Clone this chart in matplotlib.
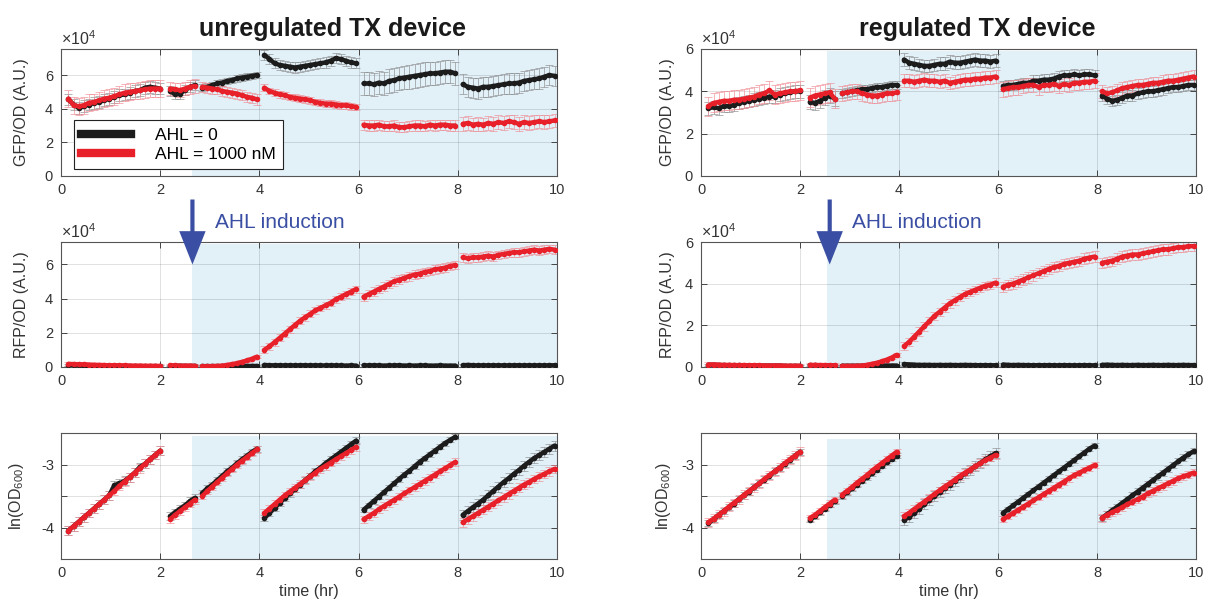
import numpy as np
import matplotlib
matplotlib.use("Agg")
import matplotlib.pyplot as plt
from matplotlib.ticker import ScalarFormatter, FixedFormatter, FixedLocator
from matplotlib.lines import Line2D

plt.rcParams['font.family'] = ['Liberation Sans', 'DejaVu Sans']
plt.rcParams['mathtext.default'] = 'regular'

# plate-reader runs: (start hr, end hr, number of reads)
windows = [(0.15, 2.0, 19), (2.2, 2.7, 6), (2.85, 3.95, 12),
           (4.1, 5.95, 19), (6.1, 7.95, 19), (8.1, 9.95, 19)]

induction_unreg = 2.65
induction_reg = 2.55

# ---------------- GFP/OD (x 1e4 A.U.) ----------------
gfp_unreg_0 = [
    [4.55, 4.25, 4.05, 4.15, 4.25, 4.35, 4.4, 4.5, 4.6, 4.7, 4.8, 4.85, 4.95, 5.05, 5.1, 5.25, 5.3, 5.25, 5.2],
    [5.05, 4.85, 4.9, 5.1, 5.3, 5.4],
    [5.25, 5.3, 5.4, 5.5, 5.55, 5.65, 5.7, 5.8, 5.85, 5.9, 5.95, 6.0],
    [7.2, 6.95, 6.7, 6.6, 6.55, 6.5, 6.45, 6.5, 6.55, 6.6, 6.65, 6.7, 6.75, 6.85, 7.0, 6.95, 6.85, 6.75, 6.7],
    [5.5, 5.5, 5.45, 5.55, 5.5, 5.65, 5.7, 5.8, 5.85, 5.9, 5.95, 6.0, 6.05, 6.1, 6.1, 6.15, 6.2, 6.2, 6.1],
    [5.45, 5.3, 5.25, 5.2, 5.3, 5.3, 5.35, 5.4, 5.45, 5.5, 5.5, 5.55, 5.65, 5.7, 5.75, 5.8, 5.9, 6.0, 5.95],
]
gfp_unreg_1000 = [
    [4.6, 4.2, 4.15, 4.2, 4.35, 4.4, 4.5, 4.6, 4.65, 4.75, 4.85, 4.95, 5.0, 5.05, 5.1, 5.15, 5.2, 5.2, 5.2],
    [5.2, 5.15, 5.1, 5.2, 5.3, 5.35],
    [5.3, 5.25, 5.2, 5.15, 5.05, 5.0, 4.95, 4.9, 4.8, 4.7, 4.65, 4.55],
    [5.25, 5.05, 4.95, 4.85, 4.8, 4.7, 4.65, 4.6, 4.55, 4.5, 4.4, 4.35, 4.3, 4.3, 4.25, 4.2, 4.2, 4.15, 4.1],
    [3.05, 3.0, 3.0, 3.05, 2.95, 2.95, 3.0, 2.9, 2.9, 2.95, 3.0, 3.0, 2.95, 3.05, 3.0, 3.05, 3.05, 3.0, 3.0],
    [3.1, 3.15, 3.05, 3.1, 3.05, 3.15, 3.1, 3.2, 3.15, 3.25, 3.2, 3.1, 3.2, 3.15, 3.2, 3.25, 3.2, 3.25, 3.3],
]
gfp_reg_0 = [
    [3.2, 3.25, 3.2, 3.3, 3.3, 3.35, 3.45, 3.5, 3.55, 3.6, 3.65, 3.7, 3.75, 3.75, 3.85, 3.9, 3.95, 4.0, 4.0],
    [3.5, 3.45, 3.55, 3.7, 3.8, 3.65],
    [3.9, 3.95, 4.0, 4.05, 4.1, 4.1, 4.15, 4.2, 4.2, 4.25, 4.3, 4.3],
    [5.5, 5.35, 5.3, 5.25, 5.2, 5.2, 5.25, 5.3, 5.3, 5.4, 5.35, 5.35, 5.4, 5.45, 5.5, 5.45, 5.45, 5.4, 5.45],
    [4.25, 4.3, 4.3, 4.35, 4.4, 4.4, 4.5, 4.5, 4.55, 4.55, 4.6, 4.7, 4.75, 4.75, 4.8, 4.75, 4.8, 4.8, 4.75],
    [3.8, 3.65, 3.55, 3.6, 3.7, 3.8, 3.8, 3.9, 3.95, 4.0, 4.0, 4.05, 4.1, 4.15, 4.2, 4.2, 4.25, 4.3, 4.3],
]
gfp_reg_1000 = [
    [3.3, 3.45, 3.5, 3.55, 3.55, 3.6, 3.6, 3.65, 3.7, 3.75, 3.85, 3.9, 4.05, 3.85, 3.9, 3.95, 4.0, 4.0, 4.05],
    [3.7, 3.8, 3.85, 3.9, 3.95, 3.65],
    [3.9, 3.95, 4.0, 4.0, 3.9, 3.85, 3.8, 3.8, 3.85, 3.9, 3.9, 3.95],
    [4.5, 4.5, 4.45, 4.5, 4.55, 4.5, 4.5, 4.45, 4.5, 4.4, 4.45, 4.5, 4.55, 4.55, 4.6, 4.6, 4.65, 4.65, 4.7],
    [4.1, 4.15, 4.2, 4.2, 4.25, 4.3, 4.3, 4.2, 4.3, 4.3, 4.35, 4.25, 4.35, 4.3, 4.4, 4.4, 4.45, 4.45, 4.5],
    [4.0, 3.9, 3.95, 4.05, 4.15, 4.2, 4.25, 4.3, 4.3, 4.35, 4.4, 4.4, 4.45, 4.5, 4.5, 4.55, 4.6, 4.65, 4.7],
]
gfp_unreg_0_err = [0.35, 0.3, 0.2, 0.3, 0.7, 0.6]
gfp_unreg_1000_err = [0.5, 0.4, 0.3, 0.2, 0.3, 0.4]
gfp_reg_0_err = [0.3, 0.35, 0.2, 0.3, 0.25, 0.25]
gfp_reg_1000_err = [0.45, 0.45, 0.35, 0.3, 0.35, 0.3]

# ---------------- RFP/OD (x 1e4 A.U.) ----------------
rfp_unreg_0 = [
    [0.12, 0.1, 0.1, 0.08, 0.08, 0.07, 0.07, 0.06, 0.06, 0.06, 0.05, 0.05, 0.05, 0.05, 0.04, 0.04, 0.04, 0.04, 0.04],
    [0.08, 0.07, 0.07, 0.06, 0.06, 0.06],
    [0.05, 0.05, 0.05, 0.05, 0.05, 0.05, 0.06, 0.06, 0.06, 0.06, 0.06, 0.06],
    [0.12, 0.1, 0.1, 0.1, 0.09, 0.1, 0.09, 0.1, 0.1, 0.09, 0.1, 0.09, 0.09, 0.1, 0.09, 0.09, 0.08, 0.09, 0.08],
    [0.1, 0.09, 0.1, 0.09, 0.08, 0.09, 0.09, 0.1, 0.08, 0.09, 0.08, 0.09, 0.09, 0.08, 0.08, 0.09, 0.08, 0.08, 0.08],
    [0.1, 0.12, 0.1, 0.09, 0.1, 0.09, 0.1, 0.09, 0.1, 0.09, 0.1, 0.1, 0.09, 0.1, 0.09, 0.1, 0.09, 0.1, 0.1],
]
rfp_unreg_1000 = [
    [0.18, 0.17, 0.16, 0.15, 0.14, 0.13, 0.12, 0.11, 0.1, 0.1, 0.09, 0.09, 0.08, 0.08, 0.08, 0.07, 0.07, 0.07, 0.06],
    [0.1, 0.09, 0.08, 0.08, 0.08, 0.07],
    [0.04, 0.04, 0.05, 0.06, 0.08, 0.12, 0.17, 0.22, 0.3, 0.38, 0.48, 0.6],
    [1.0, 1.2, 1.45, 1.7, 1.95, 2.2, 2.45, 2.7, 2.9, 3.1, 3.3, 3.45, 3.6, 3.75, 3.95, 4.1, 4.25, 4.4, 4.55],
    [4.1, 4.25, 4.4, 4.55, 4.7, 4.85, 5.0, 5.1, 5.2, 5.3, 5.4, 5.45, 5.55, 5.6, 5.7, 5.75, 5.8, 5.9, 5.95],
    [6.4, 6.35, 6.4, 6.4, 6.45, 6.5, 6.45, 6.55, 6.6, 6.65, 6.7, 6.7, 6.75, 6.8, 6.85, 6.8, 6.85, 6.9, 6.85],
]
rfp_reg_0 = [
    [0.1, 0.1, 0.09, 0.09, 0.08, 0.08, 0.08, 0.07, 0.07, 0.07, 0.06, 0.06, 0.06, 0.06, 0.06, 0.05, 0.05, 0.05, 0.05],
    [0.08, 0.08, 0.07, 0.07, 0.07, 0.07],
    [0.06, 0.06, 0.06, 0.06, 0.06, 0.06, 0.07, 0.07, 0.07, 0.07, 0.07, 0.07],
    [0.14, 0.12, 0.11, 0.1, 0.1, 0.1, 0.09, 0.1, 0.09, 0.1, 0.09, 0.09, 0.1, 0.09, 0.09, 0.08, 0.09, 0.08, 0.08],
    [0.12, 0.1, 0.09, 0.1, 0.09, 0.09, 0.08, 0.09, 0.08, 0.09, 0.08, 0.08, 0.09, 0.08, 0.08, 0.08, 0.09, 0.08, 0.08],
    [0.1, 0.11, 0.1, 0.09, 0.1, 0.09, 0.09, 0.1, 0.09, 0.09, 0.1, 0.09, 0.09, 0.1, 0.09, 0.09, 0.1, 0.09, 0.09],
]
rfp_reg_1000 = [
    [0.12, 0.12, 0.11, 0.1, 0.1, 0.09, 0.09, 0.09, 0.08, 0.08, 0.08, 0.07, 0.07, 0.07, 0.07, 0.06, 0.06, 0.06, 0.06],
    [0.1, 0.1, 0.09, 0.09, 0.08, 0.08],
    [0.05, 0.05, 0.05, 0.06, 0.07, 0.1, 0.15, 0.2, 0.27, 0.35, 0.45, 0.58],
    [1.0, 1.2, 1.45, 1.7, 1.95, 2.2, 2.45, 2.65, 2.85, 3.05, 3.2, 3.35, 3.5, 3.6, 3.7, 3.8, 3.9, 3.95, 4.05],
    [3.85, 3.95, 4.0, 4.1, 4.2, 4.3, 4.4, 4.5, 4.6, 4.7, 4.8, 4.85, 4.95, 5.0, 5.05, 5.1, 5.2, 5.25, 5.3],
    [5.0, 5.05, 5.1, 5.2, 5.3, 5.35, 5.4, 5.4, 5.45, 5.5, 5.55, 5.6, 5.65, 5.65, 5.7, 5.75, 5.75, 5.8, 5.8],
]
rfp_unreg_0_err = [0.05, 0.05, 0.05, 0.08, 0.08, 0.08]
rfp_unreg_1000_err = [0.12, 0.08, 0.08, 0.2, 0.25, 0.25]
rfp_reg_0_err = [0.05, 0.05, 0.05, 0.1, 0.08, 0.08]
rfp_reg_1000_err = [0.1, 0.1, 0.08, 0.2, 0.25, 0.25]

# ---------------- ln(OD600) ----------------
od_unreg_0 = [
    [-4.05, -3.98, -3.91, -3.84, -3.77, -3.70, -3.63, -3.56, -3.49, -3.33, -3.30, -3.26, -3.20, -3.13, -3.04, -2.99, -2.92, -2.85, -2.78],
    [-3.82, -3.76, -3.70, -3.65, -3.58, -3.53],
    [-3.45, -3.38, -3.32, -3.25, -3.18, -3.11, -3.05, -2.98, -2.92, -2.86, -2.80, -2.75],
    [-3.85, -3.77, -3.69, -3.61, -3.53, -3.46, -3.39, -3.32, -3.25, -3.18, -3.11, -3.05, -2.98, -2.92, -2.86, -2.80, -2.74, -2.68, -2.62],
    [-3.72, -3.65, -3.58, -3.51, -3.44, -3.37, -3.30, -3.23, -3.16, -3.10, -3.03, -2.96, -2.90, -2.84, -2.78, -2.72, -2.66, -2.61, -2.56],
    [-3.80, -3.74, -3.68, -3.62, -3.56, -3.49, -3.42, -3.35, -3.28, -3.22, -3.15, -3.09, -3.02, -2.96, -2.90, -2.85, -2.80, -2.75, -2.70],
]
od_unreg_1000 = [
    [-4.05, -3.98, -3.91, -3.84, -3.77, -3.70, -3.63, -3.56, -3.49, -3.42, -3.34, -3.27, -3.20, -3.13, -3.06, -2.99, -2.92, -2.85, -2.78],
    [-3.87, -3.80, -3.74, -3.68, -3.62, -3.56],
    [-3.50, -3.42, -3.35, -3.28, -3.21, -3.14, -3.07, -3.00, -2.94, -2.88, -2.82, -2.76],
    [-3.77, -3.70, -3.63, -3.56, -3.49, -3.43, -3.37, -3.31, -3.25, -3.19, -3.13, -3.07, -3.02, -2.97, -2.92, -2.87, -2.82, -2.77, -2.72],
    [-3.87, -3.82, -3.77, -3.71, -3.66, -3.61, -3.56, -3.51, -3.46, -3.41, -3.36, -3.31, -3.26, -3.21, -3.16, -3.11, -3.06, -3.01, -2.96],
    [-3.92, -3.87, -3.82, -3.77, -3.72, -3.67, -3.62, -3.57, -3.52, -3.47, -3.42, -3.37, -3.32, -3.28, -3.23, -3.19, -3.15, -3.11, -3.07],
]
od_reg_0 = [
    [-3.93, -3.87, -3.80, -3.74, -3.68, -3.62, -3.55, -3.49, -3.43, -3.36, -3.30, -3.24, -3.18, -3.11, -3.05, -2.99, -2.93, -2.86, -2.80],
    [-3.88, -3.82, -3.76, -3.70, -3.64, -3.58],
    [-3.50, -3.44, -3.38, -3.32, -3.26, -3.20, -3.14, -3.08, -3.02, -2.96, -2.91, -2.86],
    [-3.88, -3.83, -3.77, -3.70, -3.63, -3.56, -3.50, -3.44, -3.38, -3.32, -3.26, -3.20, -3.14, -3.09, -3.03, -2.98, -2.92, -2.87, -2.82],
    [-3.77, -3.71, -3.65, -3.59, -3.53, -3.47, -3.41, -3.35, -3.29, -3.23, -3.17, -3.11, -3.05, -2.99, -2.93, -2.87, -2.81, -2.75, -2.70],
    [-3.85, -3.79, -3.73, -3.67, -3.61, -3.55, -3.49, -3.43, -3.37, -3.31, -3.25, -3.19, -3.13, -3.07, -3.01, -2.95, -2.89, -2.84, -2.79],
]
od_reg_1000 = [
    [-3.92, -3.86, -3.80, -3.74, -3.67, -3.61, -3.55, -3.48, -3.42, -3.36, -3.30, -3.23, -3.17, -3.11, -3.05, -2.98, -2.92, -2.86, -2.80],
    [-3.85, -3.80, -3.74, -3.68, -3.62, -3.56],
    [-3.48, -3.42, -3.36, -3.29, -3.23, -3.17, -3.10, -3.04, -2.98, -2.92, -2.86, -2.80],
    [-3.82, -3.77, -3.71, -3.65, -3.59, -3.53, -3.47, -3.41, -3.35, -3.30, -3.24, -3.18, -3.13, -3.08, -3.03, -2.98, -2.93, -2.89, -2.85],
    [-3.87, -3.82, -3.77, -3.72, -3.67, -3.62, -3.57, -3.52, -3.47, -3.42, -3.37, -3.32, -3.27, -3.22, -3.17, -3.13, -3.09, -3.05, -3.01],
    [-3.85, -3.80, -3.76, -3.72, -3.68, -3.63, -3.59, -3.55, -3.51, -3.46, -3.42, -3.38, -3.34, -3.30, -3.26, -3.22, -3.19, -3.16, -3.13],
]
od_unreg_0_err = [0.07, 0.06, 0.05, 0.05, 0.04, 0.08]
od_unreg_1000_err = [0.07, 0.06, 0.05, 0.06, 0.06, 0.07]
od_reg_0_err = [0.05, 0.04, 0.04, 0.08, 0.04, 0.05]
od_reg_1000_err = [0.07, 0.05, 0.05, 0.06, 0.05, 0.06]

BLACK = '#1c1c1c'
RED = '#e8202a'
BLACK_ERR = '#8a8a8a'
RED_ERR = '#f08a92'
SHADE = '#e2f0f8'
BLUE = '#3a4fa3'
INK = '#333333'

fig = plt.figure(figsize=(12.08, 6.04), dpi=100)
W, H = 1208.0, 604.0
cols = [(61, 496), (701, 495)]
rows = [(49, 176), (242, 367), (433, 559)]
axes = [[fig.add_axes([c0 / W, 1 - r1 / H, cw / W, (r1 - r0) / H]) for (c0, cw) in cols]
        for (r0, r1) in rows]


def draw_pair(ax, ctrl, ctrl_err, ind, ind_err, scale=1.0):
    for segs, errs, ecol in ((ctrl, ctrl_err, BLACK_ERR), (ind, ind_err, RED_ERR)):
        for (t0, t1, n), vals, e in zip(windows, segs, errs):
            t = np.linspace(t0, t1, n)
            ax.errorbar(t, np.asarray(vals) * scale, yerr=e * scale, fmt='none',
                        ecolor=ecol, elinewidth=0.6, capsize=3, capthick=0.6,
                        alpha=0.75, zorder=2)
    for segs, col, z in ((ctrl, BLACK, 3), (ind, RED, 4)):
        for (t0, t1, n), vals in zip(windows, segs):
            t = np.linspace(t0, t1, n)
            ax.plot(t, np.asarray(vals) * scale, '-', color=col, lw=3.2,
                    marker='o', ms=3, solid_capstyle='round', zorder=z)


def style(ax, ylim, ylabel, label_x, shade_from, shade_top, sci=True):
    ax.set_xlim(0, 10)
    ax.set_ylim(*ylim)
    ax.set_xticks([0, 2, 4, 6, 8, 10])
    ax.axvspan(shade_from, 10, ymin=0, ymax=shade_top, color=SHADE, lw=0, zorder=0.2)
    ax.grid(True, color='black', alpha=0.12, lw=0.7)
    ax.set_axisbelow(True)
    ax.tick_params(direction='in', top=True, right=True, length=4, width=0.7,
                   color='#444444', labelcolor=INK, labelsize=10.5, pad=5)
    for s in ax.spines.values():
        s.set_color('#555555')
        s.set_linewidth(0.8)
    ax.set_ylabel(ylabel, fontsize=11.5, color=INK)
    ax.yaxis.set_label_coords(label_x, 0.5)
    if sci:
        fmt = ScalarFormatter(useMathText=True)
        fmt.set_powerlimits((0, 0))
        ax.yaxis.set_major_formatter(fmt)
        ax.yaxis.get_offset_text().set_fontsize(11.5)
        ax.yaxis.get_offset_text().set_color(INK)


S = 1e4
LX_LEFT, LX_RIGHT = -0.065, -0.052

# GFP row
draw_pair(axes[0][0], gfp_unreg_0, gfp_unreg_0_err, gfp_unreg_1000, gfp_unreg_1000_err, S)
draw_pair(axes[0][1], gfp_reg_0, gfp_reg_0_err, gfp_reg_1000, gfp_reg_1000_err, S)
style(axes[0][0], (0, 7.55e4), 'GFP/OD (A.U.)', LX_LEFT, induction_unreg, 1.0)
style(axes[0][1], (0, 6e4), 'GFP/OD (A.U.)', LX_RIGHT, induction_reg, 0.985)
axes[0][0].set_yticks([0, 2e4, 4e4, 6e4])
axes[0][1].set_yticks([0, 2e4, 4e4, 6e4])

# RFP row
draw_pair(axes[1][0], rfp_unreg_0, rfp_unreg_0_err, rfp_unreg_1000, rfp_unreg_1000_err, S)
draw_pair(axes[1][1], rfp_reg_0, rfp_reg_0_err, rfp_reg_1000, rfp_reg_1000_err, S)
style(axes[1][0], (0, 7.3e4), 'RFP/OD (A.U.)', LX_LEFT, induction_unreg, 0.985)
style(axes[1][1], (0, 6e4), 'RFP/OD (A.U.)', LX_RIGHT, induction_reg, 0.99)
axes[1][0].set_yticks([0, 2e4, 4e4, 6e4])
axes[1][1].set_yticks([0, 2e4, 4e4, 6e4])

# growth row
draw_pair(axes[2][0], od_unreg_0, od_unreg_0_err, od_unreg_1000, od_unreg_1000_err)
draw_pair(axes[2][1], od_reg_0, od_reg_0_err, od_reg_1000, od_reg_1000_err)
style(axes[2][0], (-4.5, -2.5), 'ln(OD$_{600}$)', LX_LEFT - 0.005, induction_unreg, 0.975, sci=False)
style(axes[2][1], (-4.5, -2.5), 'ln(OD$_{600}$)', LX_RIGHT - 0.005, induction_reg, 0.955, sci=False)
for ax in axes[2]:
    ax.yaxis.set_major_locator(FixedLocator([-4, -3.5, -3]))
    ax.yaxis.set_major_formatter(FixedFormatter(['-4', '', '-3']))
    ax.set_xlabel('time (hr)', fontsize=11.5, color=INK, labelpad=3)

# column titles
for ax, title, xf in ((axes[0][0], 'unregulated TX device', 0.548),
                      (axes[0][1], 'regulated TX device', 0.558)):
    ax.text(xf, 1.105, title, transform=ax.transAxes, ha='center', va='baseline',
            fontsize=18, fontweight='bold', color='#1a1a1a')

# induction arrows above the RFP panels
for ax, t_ind in ((axes[1][0], induction_unreg), (axes[1][1], induction_reg + 0.05)):
    ax.annotate('', xy=(t_ind, 0.82), xytext=(t_ind, 1.34),
                xycoords=('data', 'axes fraction'), textcoords=('data', 'axes fraction'),
                annotation_clip=False,
                arrowprops=dict(arrowstyle='simple,head_length=24,head_width=19,tail_width=3',
                                mutation_scale=1, color=BLUE, lw=0, shrinkA=0, shrinkB=0))
    ax.text(t_ind + 0.45, 1.16, 'AHL induction', transform=ax.get_xaxis_transform(),
            ha='left', va='center', fontsize=15, color=BLUE, clip_on=False)

# legend
handles = [Line2D([], [], color=BLACK, lw=6), Line2D([], [], color=RED, lw=6)]
leg = axes[0][0].legend(handles, ['AHL = 0', 'AHL = 1000 nM'], loc='lower left',
                        bbox_to_anchor=(0.026, 0.055), borderaxespad=0,
                        fontsize=12.5, frameon=True,
                        fancybox=False, framealpha=1, edgecolor='#222222',
                        handlelength=2.9, handletextpad=1.4, borderpad=0.4,
                        labelspacing=0.25)
leg.get_frame().set_linewidth(0.8)
leg.set_zorder(10)

fig.savefig('out.png', dpi=100)
